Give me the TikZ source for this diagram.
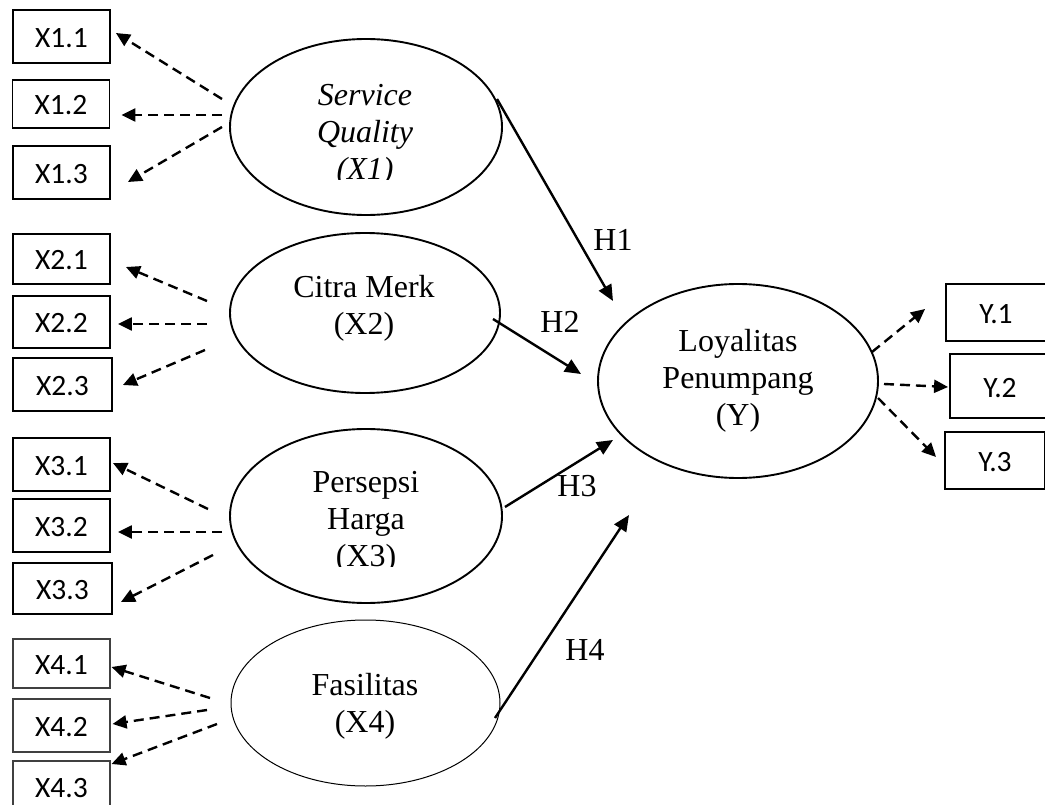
\documentclass[tikz,border=0pt]{standalone}
\usepackage{fontspec}
\setmainfont{Liberation Serif}
\newfontfamily\boxfont{Carlito}
\usetikzlibrary{arrows.meta,shapes.geometric}
\begin{document}
\begin{tikzpicture}[x=1pt,y=-1pt,
  ind/.style={draw, line width=1.9pt, minimum width=97pt, minimum height=52pt, inner sep=0pt,
    font=\boxfont\fontsize{29.5}{32}\selectfont, text height=22pt, text depth=0pt},
  indthin/.style={ind, line width=1.1pt, draw=black!75},
  lat/.style={draw, ellipse, line width=1.9pt, inner sep=0pt},
  latthin/.style={lat, line width=1pt},
  ltext/.style={align=center, font=\fontsize{32}{37}\selectfont, inner sep=0pt},
  dl/.style={line width=2.4pt, dash pattern=on 10pt off 6pt, -{Triangle[length=14pt,width=13pt]}},
  sl/.style={line width=2.4pt, -{Triangle[length=16pt,width=14pt]}},
  hl/.style={font=\fontsize{32}{37}\selectfont, inner sep=0pt}
]
\useasboundingbox (0,0) rectangle (1045,805);
\fill[white] (0,0) rectangle (1045,805);
\clip (0,0) rectangle (1045,805);

% indicator boxes
\node[ind, minimum height=53pt] (b11) at (61.5,36.5) {X1.1};
\node[ind, minimum height=48pt] (b12) at (61,104) {X1.2};
\node[ind, minimum height=53pt] (b13) at (61.5,172.5) {X1.3};
\node[ind, minimum height=50pt] (b21) at (61.5,259) {X2.1};
\node[ind, minimum height=52pt] (b22) at (61.5,322) {X2.2};
\node[ind, minimum height=53pt, minimum width=99pt] (b23) at (62.5,384.5) {X2.3};
\node[ind, minimum height=53pt] (b31) at (61.5,464.5) {X3.1};
\node[ind, minimum height=53pt] (b32) at (61.5,525.5) {X3.2};
\node[ind, minimum height=51pt, minimum width=99pt] (b33) at (62.5,588.5) {X3.3};
\node[indthin, minimum height=49pt] (b41) at (61.5,663.5) {X4.1};
\node[indthin, minimum height=53pt] (b42) at (61.5,725.5) {X4.2};
\node[indthin, minimum height=50pt] (b43) at (61.5,786) {X4.3};
\node[ind, minimum height=57pt, minimum width=100pt] (y1) at (996,312.5) {Y.1};
\node[ind, minimum height=64pt, minimum width=100pt] (y2) at (1000,386) {Y.2};
\node[ind, minimum height=57pt, minimum width=100pt] (y3) at (995,460.5) {Y.3};

% latent variables
\node[lat, minimum width=272pt, minimum height=176pt] (e1) at (366,127) {};
\node[lat, minimum width=270pt, minimum height=160pt] (e2) at (365,313) {};
\node[lat, minimum width=272pt, minimum height=174pt] (e3) at (366,516) {};
\node[latthin, minimum width=269pt, minimum height=166pt] (e4) at (365.5,703) {};
\node[lat, minimum width=280pt, minimum height=194pt] (ey) at (738,381) {};

\begin{scope}
\clip (240,60) rectangle (500,180);
\node[ltext, font=\itshape\fontsize{32}{37}\selectfont] (t1) at (365,135) {Service\\Quality\\(X1)};
\end{scope}
\node[ltext] (t2) at (364,308.5) {Citra Merk\\(X2)};
\begin{scope}
\clip (240,450) rectangle (500,566);
\node[ltext] (t3) at (366,522) {Persepsi\\Harga\\(X3)};
\end{scope}
\node[ltext] (t4) at (365,706) {Fasilitas\\(X4)};
\node[ltext] (ty) at (738,381) {Loyalitas\\Penumpang\\(Y)};

% start points of connectors
\coordinate (s11) at (222,99);
\coordinate (s12) at (222,115);
\coordinate (s13) at (222,127);
\coordinate (s21) at (207,301);
\coordinate (s22) at (207,324);
\coordinate (s23) at (205,350);
\coordinate (s31) at (208,509);
\coordinate (s32) at (222,532);
\coordinate (s33) at (213,555);
\coordinate (s41) at (210,698);
\coordinate (s42) at (207,710);
\coordinate (s43) at (217,724);
\coordinate (sy1) at (872,352);
\coordinate (sy2) at (884,384);
\coordinate (sy3) at (878,398);
\coordinate (h1s) at (497,99);
\coordinate (h2s) at (493,319);
\coordinate (h3s) at (505,507);
\coordinate (h4s) at (495,718);
\coordinate (h1e) at (613,301);
\coordinate (h2e) at (581,374);
\coordinate (h3e) at (613,440);
\coordinate (h4e) at (629,515);

% reflective indicators
\draw[dl] (s11) -- ([shift={(5,-3.5)}]b11.east);
\draw[dl] (s12) -- ([shift={(11,11)}]b12.east);
\draw[dl] (s13) -- ([shift={(17,9.5)}]b13.east);
\draw[dl] (s21) -- ([shift={(15,8)}]b21.east);
\draw[dl] (s22) -- ([shift={(7,2)}]b22.east);
\draw[dl] (s23) -- ([shift={(10,0.5)}]b23.east);
\draw[dl] (s31) -- ([shift={(2,-1.5)}]b31.east);
\draw[dl] (s32) -- ([shift={(7,6.5)}]b32.east);
\draw[dl] (s33) -- ([shift={(8,13.5)}]b33.east);
\draw[dl] (s41) -- ([shift={(1,3.5)}]b41.east);
\draw[dl] (s42) -- ([shift={(2,-1.5)}]b42.east);
\draw[dl] (s43) -- ([shift={(1,-22)}]b43.east);
\draw[dl] (sy1) -- ([shift={(-20,-3.5)}]y1.west);
\draw[dl] (sy2) -- ([shift={(-1,1)}]y2.west);
\draw[dl] (sy3) -- ([shift={(-8,-3.5)}]y3.west);

% structural paths
\draw[sl] (h1s) -- (h1e);
\draw[sl] (h2s) -- (h2e);
\draw[sl] (h3s) -- (h3e);
\draw[sl] (h4s) -- (h4e);
\node[hl] (H1) at (613,240) {H1};
\node[hl] (H2) at (560,322) {H2};
\node[hl] (H3) at (577,486) {H3};
\node[hl] (H4) at (585,650) {H4};
\end{tikzpicture}
\end{document}
